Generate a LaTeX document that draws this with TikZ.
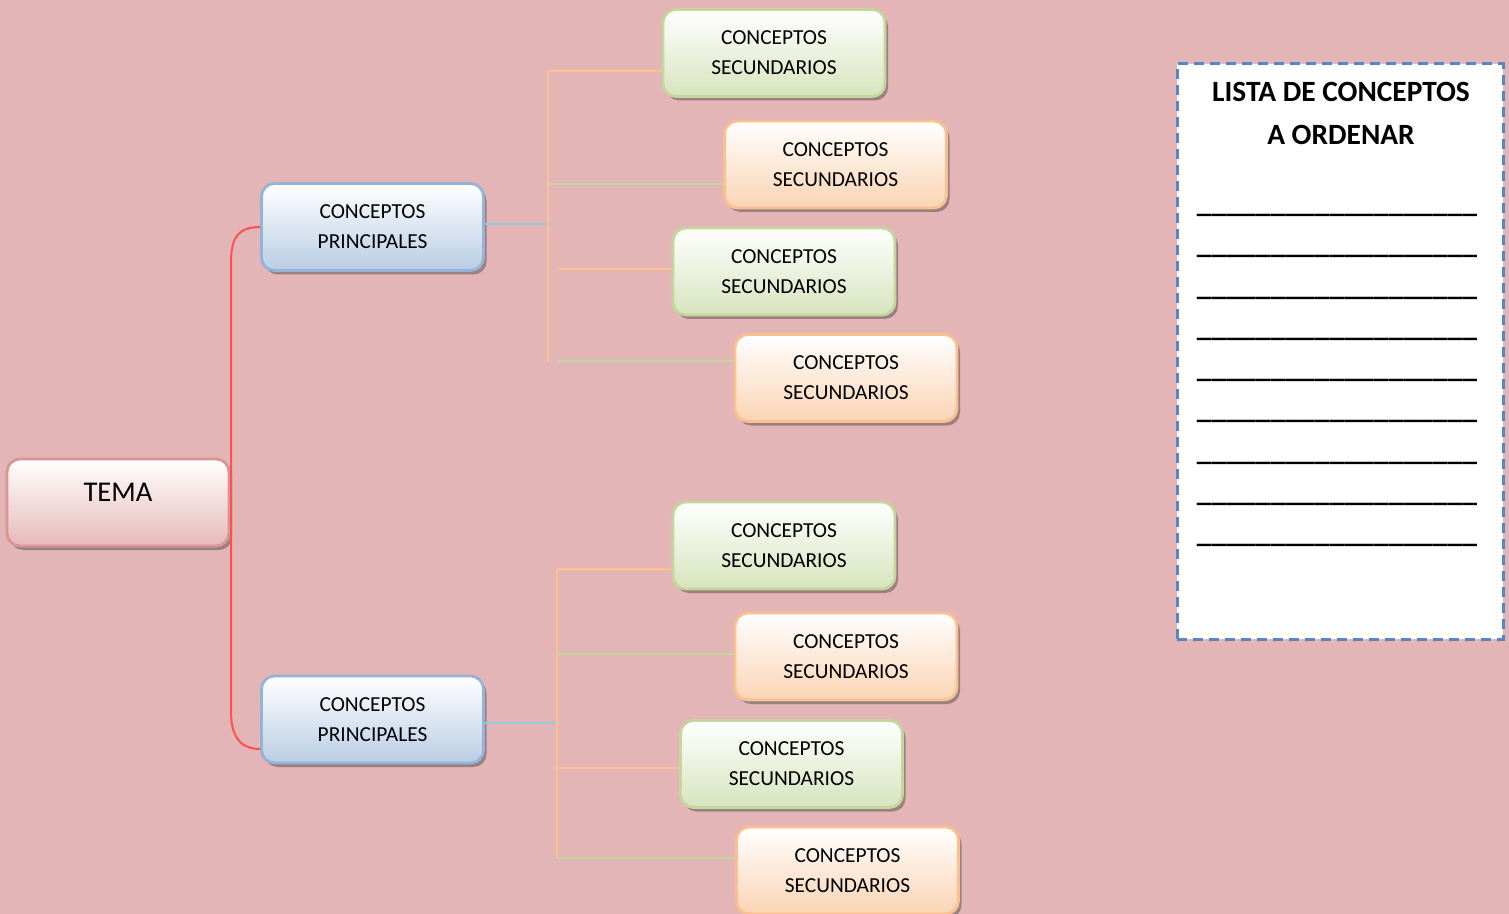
\documentclass[tikz,border=0pt]{standalone}
\usepackage{fontspec}
\setmainfont{Carlito}
\usetikzlibrary{shadows,calc}
\definecolor{bg}{HTML}{E4B5B6}
\definecolor{grborder}{HTML}{C3D69B}
\definecolor{grbottom}{HTML}{D7E4BD}
\definecolor{orborder}{HTML}{FAC090}
\definecolor{orbottom}{HTML}{FBD4B4}
\definecolor{blborder}{HTML}{95B3D7}
\definecolor{blbottom}{HTML}{B9CDE5}
\definecolor{temaborder}{HTML}{D99694}
\definecolor{temabottom}{HTML}{E6B9B8}
\definecolor{redline}{HTML}{FF5050}
\definecolor{cyanline}{HTML}{93CDDD}
\definecolor{listblue}{HTML}{5586C8}
\tikzset{
  basebox/.style={rounded corners=6.5pt, line width=1.4pt, minimum width=111pt,
    minimum height=43.5pt, align=center, inner sep=0pt,
    font=\fontsize{10.7}{15}\selectfont,
    drop shadow={shadow xshift=1.5pt, shadow yshift=-2pt, opacity=0.45, fill=black!75}},
  greenbox/.style={basebox, draw=grborder, top color=white, bottom color=grbottom},
  orangebox/.style={basebox, draw=orborder, top color=white, bottom color=orbottom},
  bluebox/.style={basebox, draw=blborder, top color=white, bottom color=blbottom},
  temabox/.style={basebox, draw=temaborder, top color=white, bottom color=temabottom},
  redconn/.style={draw=redline, line width=1pt},
  cyanconn/.style={draw=cyanline, line width=1pt},
  orconn/.style={draw=orborder, line width=0.75pt},
  grconn/.style={draw=grborder, line width=0.75pt},
  listbox/.style={draw=listblue, line width=1.5pt, dash pattern=on 5pt off 3pt,
    fill=white, minimum width=163pt, minimum height=287.5pt, inner sep=0pt},
  listtitle/.style={font=\fontsize{14.7}{21}\selectfont\bfseries, inner sep=0pt, anchor=base},
  blank/.style={font=\fontsize{14.8}{21}\selectfont\bfseries, inner sep=0pt, anchor=base}
}
\begin{document}
\begin{tikzpicture}[x=0.5pt,y=-0.5pt]
\path[use as bounding box, fill=bg] (0,0) rectangle (1509,914);

% nodes
\node[temabox] (tema) at (118,502.5) {};
\node[font=\fontsize{14.3}{17}\selectfont, inner sep=0pt] (tematxt) at (118,492) {TEMA};

\node[bluebox] (p1) at (372.5,227) {CONCEPTOS\\PRINCIPALES};
\node[bluebox] (p2) at (372.5,719.5) {CONCEPTOS\\PRINCIPALES};

\node[greenbox]  (s1) at (774,53)     {CONCEPTOS\\SECUNDARIOS};
\node[orangebox] (s2) at (835.5,164.5) {CONCEPTOS\\SECUNDARIOS};
\node[greenbox]  (s3) at (784,271.5)  {CONCEPTOS\\SECUNDARIOS};
\node[orangebox] (s4) at (846,378)    {CONCEPTOS\\SECUNDARIOS};
\node[greenbox]  (s5) at (784,545.5)  {CONCEPTOS\\SECUNDARIOS};
\node[orangebox] (s6) at (846,656.5)  {CONCEPTOS\\SECUNDARIOS};
\node[greenbox]  (s7) at (791.5,764)  {CONCEPTOS\\SECUNDARIOS};
\node[orangebox] (s8) at (847.5,870.5) {CONCEPTOS\\SECUNDARIOS};

% connectors: tema to principal concepts
\coordinate (r1) at (231,262);
\coordinate (r2) at (231,712);
\coordinate (e2) at ($(p2.west)+(0,29.5)$);
\draw[redconn] (p1.west) .. controls (238,227) and (231,238) .. (r1) -- (r2)
  .. controls (231,736) and (240,749) .. (e2);

% group 1
\coordinate (g1) at (548,224);
\coordinate (b1) at (548,71);
\coordinate (b2) at (548,184);
\coordinate (b3) at (557,269);
\coordinate (b4) at (557,361);
\coordinate (g1end) at (548,362);
\draw[cyanconn] (p1.east |- g1) -- (g1);
\draw[orconn] (b1) -- (g1end);
\draw[orconn] (b1) -- (s1.west |- b1);
\draw[grconn] (b2) -- (s2.west |- b2);
\draw[orconn] (b3) -- (s3.west |- b3);
\draw[grconn] (b4) -- (s4.west |- b4);

% group 2
\coordinate (g2) at (557,723);
\coordinate (b5) at (557,569);
\coordinate (b6) at (557,654);
\coordinate (b7) at (557,768);
\coordinate (b8) at (557,858);
\draw[cyanconn] (p2.east |- g2) -- (g2);
\draw[orconn] (b5) -- (b8);
\draw[orconn] (b5) -- (s5.west |- b5);
\draw[grconn] (b6) -- (s6.west |- b6);
\draw[orconn] (b7) -- (s7.west |- b7);
\draw[grconn] (b8) -- (s8.west |- b8);

% list box
\node[listbox] (lista) at (1340,351.5) {};
\node[listtitle] (title1) at (1341,101.7) {LISTA DE CONCEPTOS};
\node[listtitle] (title2) at (1341,144.3) {A ORDENAR};
\foreach \i in {0,...,8} {
  \node[blank] (blank\i) at (1337,{212.7+41.25*\i}) {\_\_\_\_\_\_\_\_\_\_\_\_\_\_\_\_\_\_\_};
}
\end{tikzpicture}
\end{document}
